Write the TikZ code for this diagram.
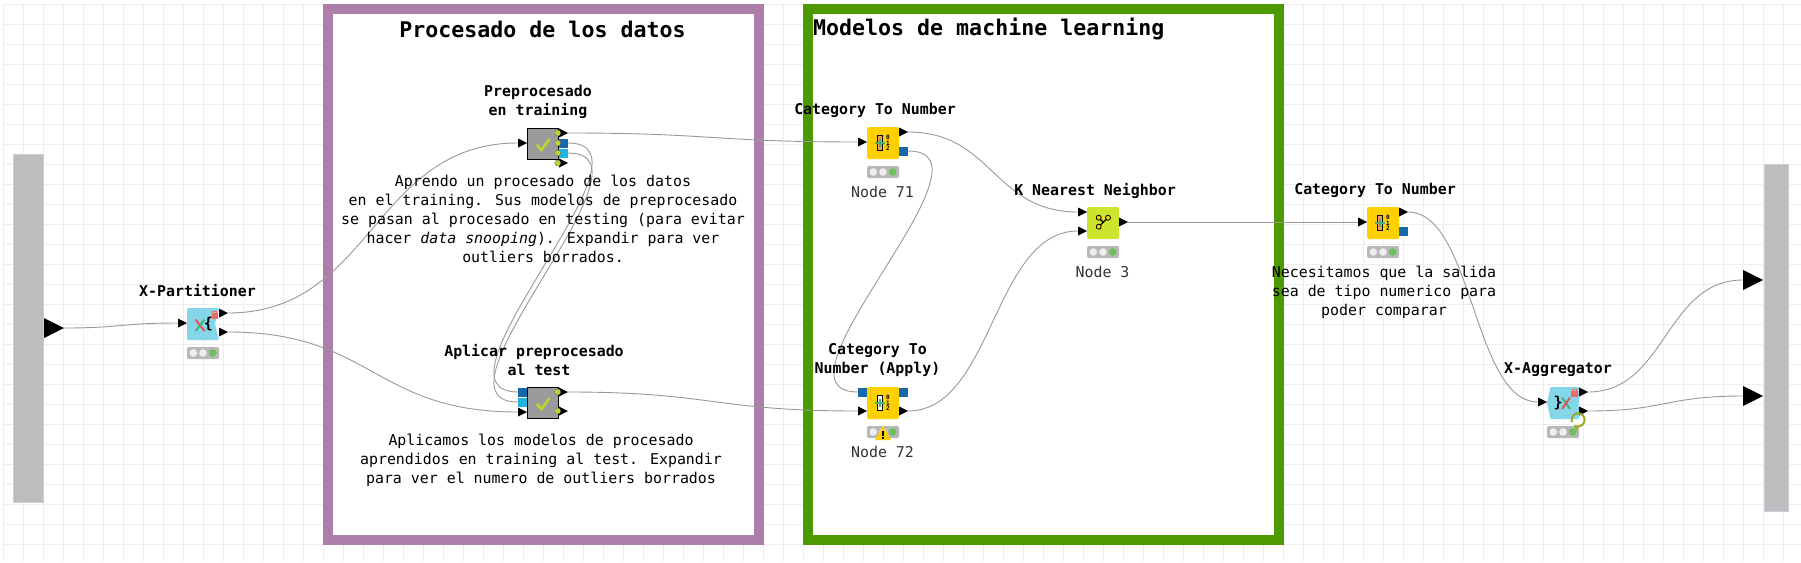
\documentclass[tikz,border=0pt]{standalone}
\usepackage{fontspec}
\setmainfont{DejaVu Sans Mono}
\usetikzlibrary{calc}
\definecolor{KNGrid}{HTML}{EEEEEE}
\definecolor{KNBar}{HTML}{BDBDBD}
\definecolor{KNBarEdge}{HTML}{C8CEDA}
\definecolor{KNPurple}{HTML}{AD7EA9}
\definecolor{KNGreen}{HTML}{4C9900}
\definecolor{KNWire}{HTML}{999999}
\definecolor{KNYellow}{HTML}{FFD000}
\definecolor{KNSky}{HTML}{86D6EA}
\definecolor{KNLime}{HTML}{CBE42E}
\definecolor{KNCheck}{HTML}{BFD42F}
\definecolor{KNMeta}{HTML}{9B9B9B}
\definecolor{KNBlue}{HTML}{1769AA}
\definecolor{KNCyan}{HTML}{1DB5E0}
\definecolor{KNStatus}{HTML}{B8B8B8}
\definecolor{KNLight}{HTML}{EEEEEE}
\definecolor{KNOk}{HTML}{6CC05C}
\definecolor{KNRed}{HTML}{E8514F}
\definecolor{KNLeaf}{HTML}{4CAF7A}
\definecolor{KNOrange}{HTML}{F2A05A}
\tikzset{
  wire/.style={draw=KNWire,line width=0.9pt},
  nodebody/.style={minimum size=32pt,inner sep=0pt,rounded corners=2pt},
  nametext/.style={font=\fontsize{14.9}{19}\selectfont\bfseries,align=center,inner sep=0pt},
  captext/.style={font=\fontsize{14.9}{19}\selectfont,align=center,inner sep=0pt},
  idtext/.style={font=\fontsize{14.9}{19}\selectfont,text=black!80,inner sep=0pt},
  headtext/.style={font=\fontsize{21.6}{26}\selectfont\bfseries,inner sep=0pt},
  digit/.style={font=\fontsize{6}{6}\selectfont\bfseries,inner sep=0pt}
}
\begin{document}
\begin{tikzpicture}[x=1pt,y=-1pt]
  \useasboundingbox (0,0) rectangle (1801,562);
  \fill[white] (0,0) rectangle (1801,562);
  % canvas grid
  \foreach \gx in {0,...,89}{
    \draw[KNGrid,line width=1pt] (3.5+\gx*20,4) -- (3.5+\gx*20,562);
  }
  \foreach \gy in {0,...,27}{
    \draw[KNGrid,line width=1pt] (3,4.5+\gy*20) -- (1801,4.5+\gy*20);
  }
  % annotation frames
  \draw[KNPurple,line width=10pt,fill=white] (328,9) rectangle (759,540);
  \draw[KNGreen,line width=10pt,fill=white] (808,9) rectangle (1279,540);
  % metanode side bars
  \draw[KNBarEdge,fill=KNBar] (13.5,154.5) rectangle (43.5,502);
  \draw[KNBarEdge,fill=KNBar] (1764,164.5) rectangle (1788,511.5);
  \foreach \bx/\by/\bn in {44/328/barL}{
    \fill (\bx,\by-10) -- ++(20,10) -- ++(-20,10) -- cycle;
    \coordinate (\bn) at (\bx+20,\by);
  }
  \foreach \bx/\by/\bn in {1743/280/barA,1743/396/barB}{
    \fill (\bx,\by-10) -- ++(20,10) -- ++(-20,10) -- cycle;
    \coordinate (\bn) at (\bx,\by);
  }
  % node bodies
  \foreach \n/\cx/\cy/\col in {catA/883/143/KNYellow,
                               catB/883/403/KNYellow,
                               catC/1383/223/KNYellow,
                               knn/1103/223/KNLime}{
    \node[nodebody,fill=\col] (\n) at (\cx,\cy) {};
  }
  \fill[KNSky,rounded corners=1pt] (187,308) -- (219,308) -- (215,324) -- (219,340) -- (187,340) -- cycle;
  \fill[KNSky,rounded corners=1pt] (1550.5,387) -- (1579,387) -- (1579,419) -- (1550.5,419) -- (1547,403) -- cycle;
  \foreach \n/\cx/\cy in {prep/543/144,apply/543/403}{
    \node[draw=black,fill=KNMeta,minimum size=31pt,inner sep=0pt,line width=0.8pt] (\n) at (\cx,\cy) {};
    \draw[KNCheck,line width=2.6pt] (\cx-6.3,\cy+1) -- (\cx-1.3,\cy+6) -- (\cx+6.3,\cy-5);
  }
  % ports, input side first
  \foreach \px/\py/\pn in {178/323/partIn,518/143/prepIn,518/412/applyC,
                           858/142/catAIn,858/411/catBIn,1078/212/knnA,
                           1078/231/knnB,1358/222/catCIn,1538/402/aggIn}{
    \fill (\px,\py-4.5) -- ++(9,4.5) -- ++(-9,4.5) -- cycle;
    \coordinate (\pn) at (\px,\py);
  }
  \foreach \px/\py/\pn in {219/313/partA,219/332/partB,559/133/prepA,559/163/prepD,
                           559/392/applyOut,559/411/applyE,899/132/catAOut,
                           899/411/catBOut,1119/222/knnOut,1399/212/catCOut,
                           1579/392/aggA,1579/411/aggB}{
    \fill (\px,\py-4.5) -- ++(9,4.5) -- ++(-9,4.5) -- cycle;
    \coordinate (\pn) at (\px+9,\py);
  }
  \foreach \px/\py/\pn/\col in {559/143/prepB/KNBlue,559/153/prepC/KNCyan,
                                899/151/catAMod/KNBlue,1399/231/catCMod/KNBlue}{
    \fill[\col] (\px,\py-4.5) rectangle ++(9,9);
    \coordinate (\pn) at (\px+9,\py);
  }
  \foreach \px/\py/\pn/\col in {518/392/applyA/KNBlue,518/402/applyB/KNCyan,
                                858/392/catBMod/KNBlue}{
    \fill[\col] (\px,\py-4.5) rectangle ++(9,9);
    \coordinate (\pn) at (\px,\py);
  }
  \fill[KNBlue] (899,387.5) rectangle ++(9,9);
  % wires
  \foreach \a/\b/\h in {barL/partIn/57,
                        partA/prepIn/145,
                        partB/applyC/145,
                        prepA/catAIn/145,
                        prepB/applyA/100,
                        prepC/applyB/100,
                        applyOut/catBIn/145,
                        catAOut/knnA/85,
                        catAMod/catBMod/100,
                        catBOut/knnB/85,
                        knnOut/catCIn/115,
                        catCOut/aggIn/65,
                        aggA/barA/78,
                        aggB/barB/78}{
    \path[wire] (\a) .. controls ($(\a)+(\h,0)$) and ($(\b)-(\h,0)$) .. (\b);
  }
  % small lamps on the metanode ports
  \foreach \lx/\ly in {557.7/133,557.7/143,557.7/153,557.7/163,557.7/392,557.7/411}{
    \draw[black!60,fill=KNCheck,line width=0.3pt] (\lx,\ly) circle (3pt);
  }
  % traffic lights
  \foreach \sx/\sy in {203/347,883/166,883/426,1103/246,1383/246,1563/426}{
    \fill[KNStatus,rounded corners=1.5pt] (\sx-16,\sy) rectangle ++(32,12);
    \fill[KNLight] (\sx-9.7,\sy+6) circle (3.8pt);
    \fill[KNLight] (\sx,\sy+6) circle (3.8pt);
    \fill[KNOk] (\sx+9.7,\sy+6) circle (3.8pt);
  }
  \fill[KNYellow] (883,426) -- (891,440) -- (875,440) -- cycle;
  \fill (882.2,431) rectangle (883.8,436);
  \fill (882.2,437) rectangle (883.8,438.6);
  % category icons
  \foreach \ix/\iy/\col in {883/143/KNOrange,883/403/white,1383/223/KNOrange}{
    \draw[black,fill=\col,line width=0.8pt] (\ix-5.7,\iy-8) rectangle (\ix-0.3,\iy+7.7);
    \draw[KNLeaf,line width=1.4pt] (\ix-8,\iy) -- (\ix+2,\iy);
    \draw[KNLeaf,line width=1.4pt] (\ix-3,\iy-4) -- (\ix-3,\iy+4);
    \node[digit] (d0x\ix) at (\ix+5,\iy-5.7) {0};
    \node[digit] (d1x\ix) at (\ix+5,\iy) {1};
    \node[digit] (d2x\ix) at (\ix+5,\iy+5.7) {2};
  }
  % knn icon
  \draw[black,line width=1.2pt] (1098.7,217.7) -- (1103.3,222.3) -- (1108,217.7);
  \draw[black,line width=1.2pt] (1098.7,226.7) -- (1103.3,222.3);
  \foreach \kx/\ky in {1098.7/217.7,1108/217.7,1098.7/226.7}{
    \draw[black,fill=KNYellow,line width=0.8pt] (\kx,\ky) circle (2.5pt);
  }
  % loop node icons
  \draw[KNRed,line width=2pt] (195.5,319.5) -- (204.5,331);
  \draw[KNLeaf,line width=2pt] (204.5,319.5) -- (195.5,331);
  \node[font=\fontsize{15}{15}\selectfont\bfseries,inner sep=0pt] (partBrace) at (208.5,324.5) {\{};
  \node[font=\fontsize{15}{15}\selectfont\bfseries,inner sep=0pt] (aggBrace) at (1558,403) {\}};
  \draw[KNLeaf,line width=2pt] (1562,397.5) -- (1570,409);
  \draw[KNRed,line width=2pt] (1570,397.5) -- (1562,409);
  \foreach \lx/\ly in {214.7/315,1574.3/393}{
    \fill[KNRed!85!white] (\lx-3.2,\ly-2) rectangle ++(6.4,5.5);
    \draw[KNRed!85!white,line width=1pt] (\lx-2,\ly-2) -- ++(0,-1.8) -- ++(4,0) -- ++(0,1.8);
  }
  \draw[KNCheck!80!black,line width=2pt,-stealth] (1572,422) arc (200:-130:6.5pt);
  % titles and captions
  \node[headtext] (headProc) at (542.5,29) {Procesado de los datos};
  \node[headtext,anchor=west] (headModel) at (813,29) {Modelos de machine learning};
  \node[nametext] (namePart) at (197.5,291) {X-Partitioner};
  \node[nametext] (namePrep) at (538,101.5) {Preprocesado\\en training};
  \node[nametext] (nameApply) at (534,360.5) {Aplicar preprocesado\\\hspace*{10pt}al test};
  \node[nametext] (nameCatA) at (875,110) {Category To Number};
  \node[nametext] (nameCatB) at (877.5,360.5) {Category To\\Number (Apply)};
  \node[nametext] (nameKnn) at (1095,190.5) {K Nearest Neighbor};
  \node[nametext] (nameCatC) at (1375,190.5) {Category To Number};
  \node[nametext] (nameAgg) at (1558,370) {X-Aggregator};
  \node[idtext] (idA) at (882.5,192) {Node 71};
  \node[idtext] (idB) at (882.5,452) {Node 72};
  \node[idtext] (idC) at (1102.5,272) {Node 3};
  \node[captext] (capPrep) at (543,219) {Aprendo un procesado de los datos\\en el training. Sus modelos de preprocesado\\se pasan al procesado en testing (para evitar\\hacer {\itshape data snooping}). Expandir para ver\\outliers borrados.};
  \node[captext] (capApply) at (541,460) {Aplicamos los modelos de procesado\\aprendidos en training al test. Expandir\\para ver el numero de outliers borrados};
  \node[captext] (capCat) at (1384,292) {Necesitamos que la salida\\sea de tipo numerico para\\poder comparar};
\end{tikzpicture}
\end{document}
